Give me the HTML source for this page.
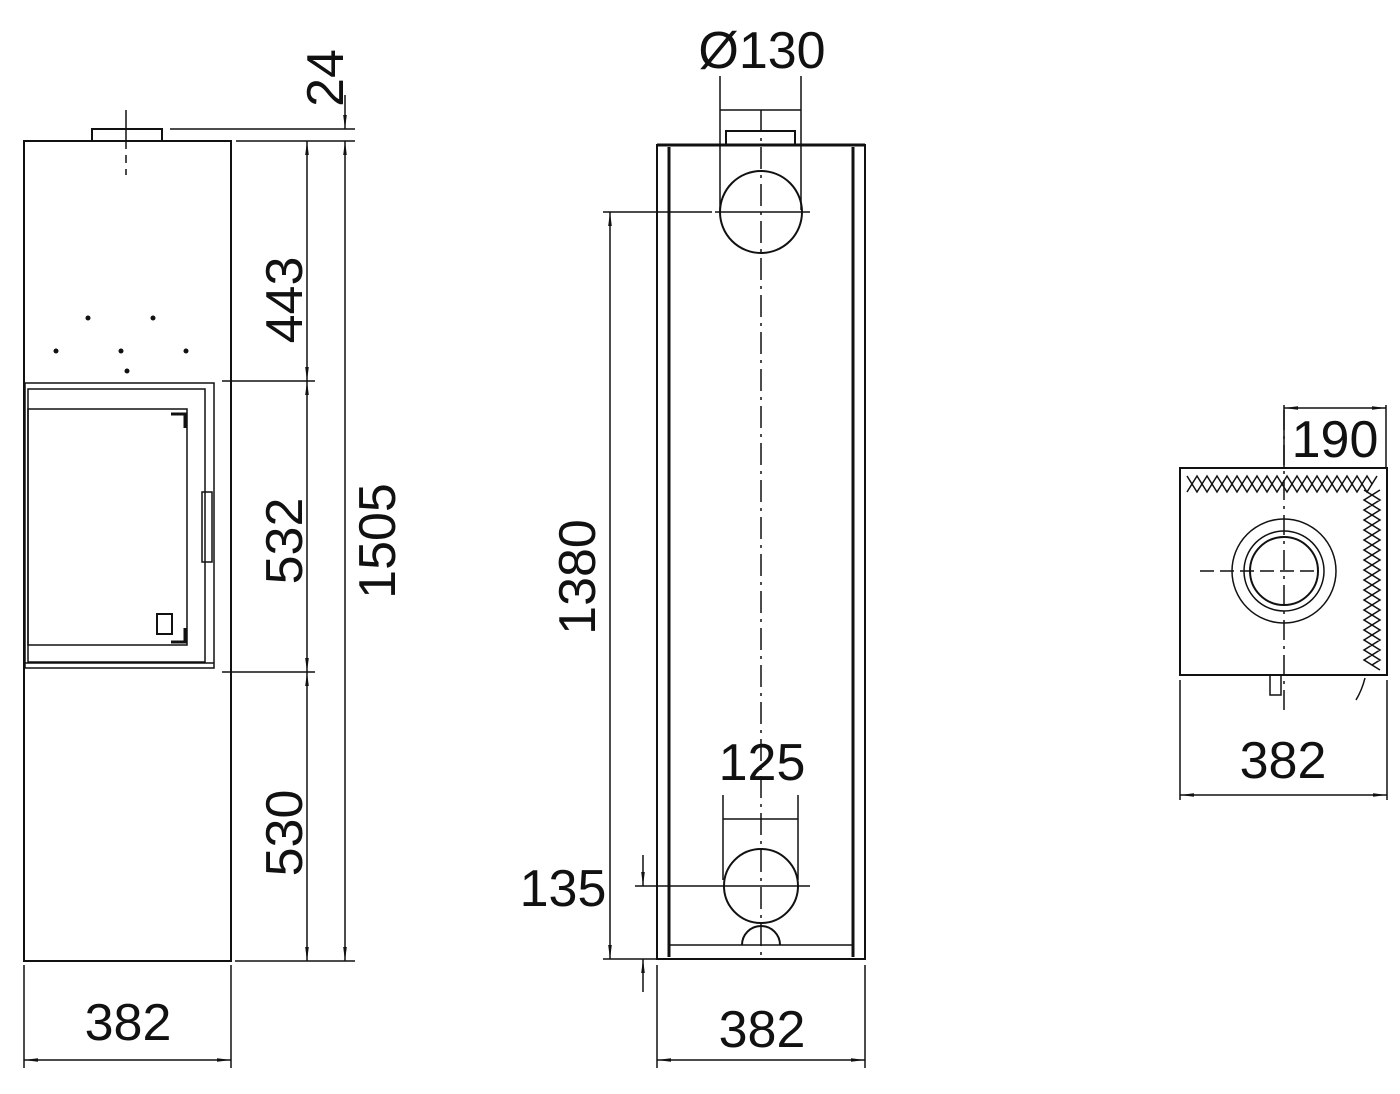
<!DOCTYPE html>
<html><head><meta charset="utf-8"><style>html,body{margin:0;padding:0;background:#fff}svg{display:block}</style></head><body>
<svg width="1400" height="1094" viewBox="0 0 1400 1094" xmlns="http://www.w3.org/2000/svg">
<defs>
<marker id="a" markerWidth="16" markerHeight="8" refX="14" refY="3" orient="auto-start-reverse" markerUnits="userSpaceOnUse"><path d="M0,1.2 L14,3 L0,4.8 Z" fill="#111"/></marker>
</defs>
<g fill="none" stroke="#111" stroke-width="2">
<!-- LEFT VIEW -->
<rect x="24" y="141" width="207" height="820"/>
<path d="M92,141 V129 H162 V141"/>
<path d="M126,110 V141" stroke-width="1.5"/>
<path d="M126,141 V175" stroke-width="1.5" stroke-dasharray="8,6"/>
<circle cx="88" cy="318" r="2.5" fill="#111" stroke="none"/>
<circle cx="153" cy="318" r="2.5" fill="#111" stroke="none"/>
<circle cx="56" cy="351" r="2.5" fill="#111" stroke="none"/>
<circle cx="121" cy="351" r="2.5" fill="#111" stroke="none"/>
<circle cx="186" cy="351" r="2.5" fill="#111" stroke="none"/>
<circle cx="127" cy="371" r="2.5" fill="#111" stroke="none"/>
<rect x="25" y="383" width="189" height="285" stroke-width="1.5"/>
<rect x="28" y="389" width="177" height="273" stroke-width="1.5"/>
<rect x="28" y="409" width="159" height="236" stroke-width="1.5"/>
<rect x="202" y="492" width="10" height="70" stroke-width="1.5"/>
<path d="M171,414 H185 V428" stroke-width="3"/>
<path d="M185,628 V642 H171" stroke-width="3"/>
<rect x="157" y="614" width="15" height="20" stroke-width="2"/>
<path d="M24,663 H214" stroke-width="1.5"/>
<!-- dims left -->
<path d="M170,129 H355 M236,141 H355 M222,381 H315 M222,672 H315 M235,961 H355" stroke-width="1.5"/>
<path d="M307,141 V381" stroke-width="1.5" marker-start="url(#a)" marker-end="url(#a)"/>
<path d="M307,381 V672" stroke-width="1.5" marker-start="url(#a)" marker-end="url(#a)"/>
<path d="M307,672 V961" stroke-width="1.5" marker-start="url(#a)" marker-end="url(#a)"/>
<path d="M345,141 V961" stroke-width="1.5" marker-start="url(#a)" marker-end="url(#a)"/>
<path d="M345,95 V129" stroke-width="1.5" marker-end="url(#a)"/>
<path d="M24,965 V1068 M231,965 V1068" stroke-width="1.5"/>
<path d="M24,1060 H231" stroke-width="1.5" marker-start="url(#a)" marker-end="url(#a)"/>
<!-- MIDDLE VIEW -->
<rect x="657" y="145" width="208" height="814"/>
<path d="M669,147 V957 M853,147 V957" stroke-width="3"/>
<path d="M657,145 H865" stroke-width="3"/>
<path d="M726,145 V131 H795 V145"/>
<circle cx="761" cy="212" r="41"/>
<circle cx="761" cy="886" r="37"/>
<path d="M761,110 V960" stroke-width="1.5" stroke-dasharray="22,6,3,6"/>
<path d="M715,212 H810 M635,886 H810" stroke-width="1.5"/>
<path d="M669,945 H853" stroke-width="1.5"/>
<path d="M742,945 A19,19 0 0 1 780,945" stroke-width="2"/>
<path d="M720,76 V210 M801,76 V210 M720,110 H801" stroke-width="1.5"/>
<path d="M723,795 V880 M798,795 V880 M723,819 H798" stroke-width="1.5"/>
<path d="M603,212 H712 M603,959 H657" stroke-width="1.5"/>
<path d="M610,212 V959" stroke-width="1.5" marker-start="url(#a)" marker-end="url(#a)"/>
<path d="M643,855 V886" stroke-width="1.5" marker-end="url(#a)"/>
<path d="M643,992 V959" stroke-width="1.5" marker-end="url(#a)"/>
<path d="M657,965 V1068 M865,965 V1068" stroke-width="1.5"/>
<path d="M657,1060 H865" stroke-width="1.5" marker-start="url(#a)" marker-end="url(#a)"/>
<!-- RIGHT VIEW -->
<rect x="1180" y="468" width="207" height="207"/>
<circle cx="1284" cy="571" r="52" stroke-width="1.5"/>
<circle cx="1284" cy="571" r="40" stroke-width="1.5"/>
<circle cx="1284" cy="571" r="34"/>
<path d="M1284,410 V710" stroke-width="1.5" stroke-dasharray="20,6,3,6"/>
<path d="M1200,571 H1320" stroke-width="1.5" stroke-dasharray="14,6"/>
<path d="M1270,675 V695 H1281 V675" stroke-width="1.5"/>
<path d="M1365,678 Q1362,690 1356,700" stroke-width="1.5"/>
<path d="M1187,476 l5,8 l5,-8 l5,8 l5,-8 l5,8 l5,-8 l5,8 l5,-8 l5,8 l5,-8 l5,8 l5,-8 l5,8 l5,-8 l5,8 l5,-8 l5,8 l5,-8 l5,8 l5,-8 l5,8 l5,-8 l5,8 l5,-8 l5,8 l5,-8 l5,8 l5,-8 l5,8 l5,-8 l5,8 l5,-8 l5,8 l5,-8 l5,8 l5,-8 l5,8 l5,-8" stroke-width="1.5"/>
<path d="M1187,492 l5,-8 l5,8 l5,-8 l5,8 l5,-8 l5,8 l5,-8 l5,8 l5,-8 l5,8 l5,-8 l5,8 l5,-8 l5,8 l5,-8 l5,8 l5,-8 l5,8 l5,-8 l5,8 l5,-8 l5,8 l5,-8 l5,8 l5,-8 l5,8 l5,-8 l5,8 l5,-8 l5,8 l5,-8 l5,8 l5,-8 l5,8 l5,-8 l5,8 l5,-8" stroke-width="1.5"/>
<path d="M1364,490 l8,5 l-8,5 l8,5 l-8,5 l8,5 l-8,5 l8,5 l-8,5 l8,5 l-8,5 l8,5 l-8,5 l8,5 l-8,5 l8,5 l-8,5 l8,5 l-8,5 l8,5 l-8,5 l8,5 l-8,5 l8,5 l-8,5 l8,5 l-8,5 l8,5 l-8,5 l8,5 l-8,5 l8,5 l-8,5 l8,5 l-8,5 l8,5" stroke-width="1.5"/>
<path d="M1380,490 l-8,5 l8,5 l-8,5 l8,5 l-8,5 l8,5 l-8,5 l8,5 l-8,5 l8,5 l-8,5 l8,5 l-8,5 l8,5 l-8,5 l8,5 l-8,5 l8,5 l-8,5 l8,5 l-8,5 l8,5 l-8,5 l8,5 l-8,5 l8,5 l-8,5 l8,5 l-8,5 l8,5 l-8,5 l8,5 l-8,5 l8,5 l-8,5 l8,5" stroke-width="1.5"/>
<path d="M1284,405 V468 M1386,405 V468" stroke-width="1.5"/>
<path d="M1284,408 H1386" stroke-width="1.5" marker-start="url(#a)" marker-end="url(#a)"/>
<path d="M1180,680 V800 M1387,680 V800" stroke-width="1.5"/>
<path d="M1180,795 H1387" stroke-width="1.5" marker-start="url(#a)" marker-end="url(#a)"/>
</g>
<g font-family="'Liberation Sans', sans-serif" font-size="52" fill="#111" text-anchor="middle">
<text x="128" y="1040">382</text>
<text x="762" y="1047">382</text>
<text x="1283" y="778">382</text>
<text x="1335" y="457">190</text>
<text x="762" y="780">125</text>
<text x="563" y="906">135</text>
<text x="762" y="68">Ø130</text>
<text transform="translate(302,300) rotate(-90)">443</text>
<text transform="translate(302,541) rotate(-90)">532</text>
<text transform="translate(302,833) rotate(-90)">530</text>
<text transform="translate(395,541) rotate(-90)">1505</text>
<text transform="translate(595,577) rotate(-90)">1380</text>
<text transform="translate(343,78) rotate(-90)">24</text>
</g>
</svg>
</body></html>
